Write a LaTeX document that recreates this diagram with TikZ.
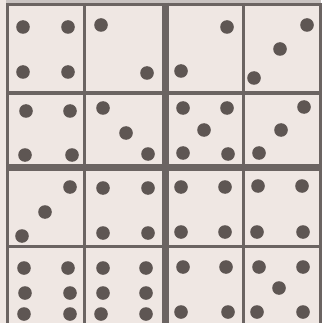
\documentclass[tikz,border=0pt]{standalone}
\definecolor{paper}{HTML}{EFE7E3}
\definecolor{ink}{HTML}{6B6462}
\definecolor{pip}{HTML}{5E5653}
\definecolor{haze}{HTML}{C9C3C1}
\tikzset{
  gridline/.style={draw=ink, line width=#1},
  pipdot/.style={fill=pip},
}
\newcommand{\pipat}[2]{\fill[pipdot] (#1,#2) circle (6.8);}
\begin{document}
\begin{tikzpicture}[x=1pt,y=-1pt]
\useasboundingbox (0,0) rectangle (321,323);
\fill[paper] (0,0) rectangle (321,323);
\fill[haze] (6,0) rectangle (321,3);
% grid lines
\draw[gridline=3.5] (6,4.5) -- (321,4.5);
\draw[gridline=3.5] (6,93) -- (321,93);
\draw[gridline=7] (6,167.5) -- (321,167.5);
\draw[gridline=3] (6,246) -- (321,246);
\draw[gridline=3] (7.5,3) -- (7.5,323);
\draw[gridline=3] (84.5,3) -- (84.5,323);
\draw[gridline=6.5] (165.5,3) -- (165.5,323);
\draw[gridline=3] (243,3) -- (243,323);
\draw[gridline=3] (320,3) -- (320,323);
% row 1
\pipat{23}{27}\pipat{68}{27}\pipat{23}{72}\pipat{68}{72}
\pipat{101}{25}\pipat{147}{73}
\pipat{227}{27}\pipat{181}{71}
\pipat{307}{25}\pipat{280}{49}\pipat{254}{78}
% row 2
\pipat{26}{111}\pipat{70}{111}\pipat{25}{155}\pipat{72}{155}
\pipat{103}{108}\pipat{126}{133}\pipat{148}{154}
\pipat{183}{108}\pipat{227}{108}\pipat{204}{130}\pipat{183}{153}\pipat{228}{154}
\pipat{304}{107}\pipat{281}{130}\pipat{259}{153}
% row 3
\pipat{70}{187}\pipat{45}{212}\pipat{22}{236}
\pipat{103}{188}\pipat{148}{188}\pipat{103}{233}\pipat{148}{233}
\pipat{181}{187}\pipat{225}{187}\pipat{181}{232}\pipat{225}{232}
\pipat{258}{186}\pipat{302}{186}\pipat{257}{232}\pipat{303}{232}
% row 4
\pipat{24}{268}\pipat{68}{268}\pipat{25}{293}\pipat{70}{293}\pipat{24}{314}\pipat{70}{314}
\pipat{103}{268}\pipat{146}{268}\pipat{103}{293}\pipat{146}{293}\pipat{101}{314}\pipat{146}{314}
\pipat{183}{267}\pipat{226}{267}\pipat{181}{312}\pipat{228}{312}
\pipat{259}{267}\pipat{303}{267}\pipat{279}{288}\pipat{257}{312}\pipat{303}{312}
\end{tikzpicture}
\end{document}
